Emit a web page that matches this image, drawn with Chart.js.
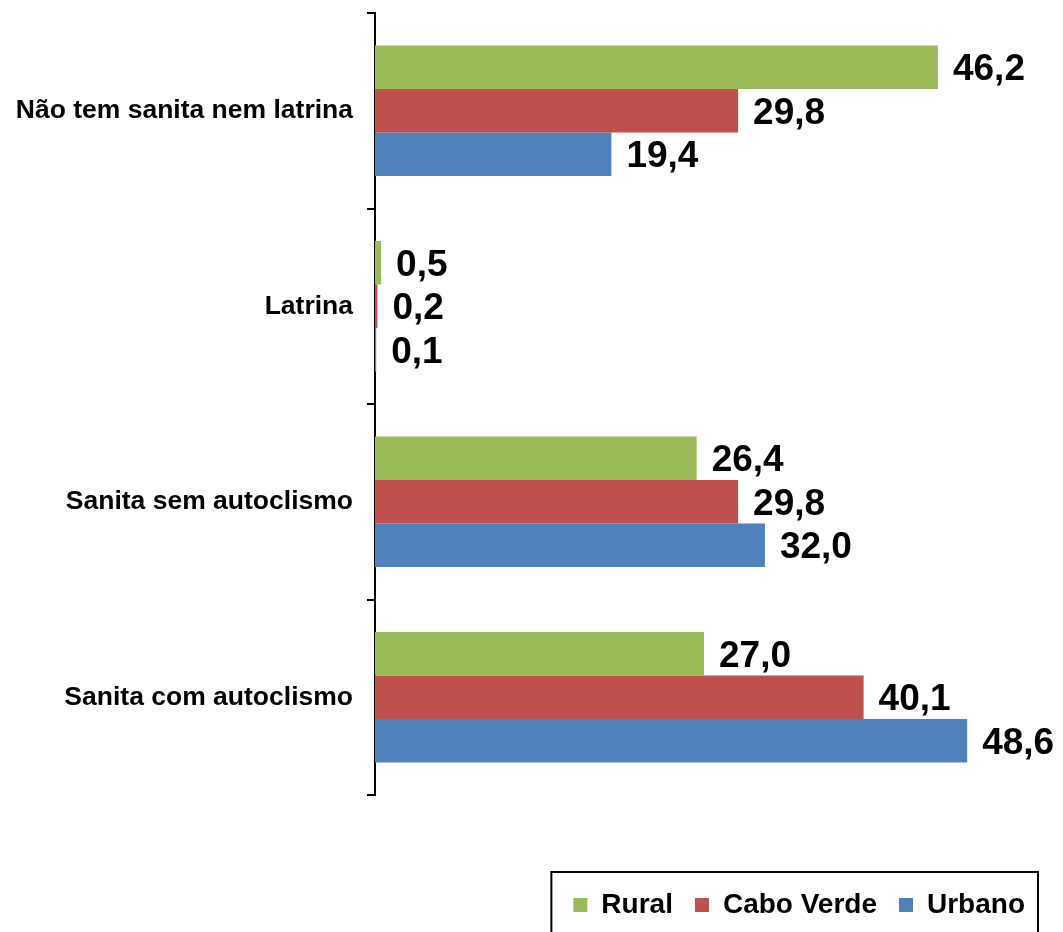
<!DOCTYPE html>
<html>
<head>
<meta charset="utf-8">
<script src="https://cdn.jsdelivr.net/npm/chart.js@4/dist/chart.umd.min.js"></script>
<style>
  html, body { margin: 0; padding: 0; background: #fff; }
  #wrap { width: 1063px; height: 932px; position: relative; }
</style>
</head>
<body>
<div id="wrap"><canvas id="c" width="1063" height="932"></canvas></div>
<script>
const categories = ["Não tem sanita nem latrina", "Latrina", "Sanita sem autoclismo", "Sanita com autoclismo"];
const seriesNames = ["Rural", "Cabo Verde", "Urbano"];
const rural = [46.2, 0.5, 26.4, 27.0];
const caboVerde = [29.8, 0.2, 29.8, 40.1];
const urbano = [19.4, 0.1, 32.0, 48.6];
const seriesColors = ["#9BBB59", "#C0504D", "#4F81BD"];

const FONT = '"Liberation Sans", Arial, sans-serif';

const valueLabels = {
  id: 'valueLabels',
  afterDatasetsDraw(chart) {
    const ctx = chart.ctx;
    ctx.save();
    ctx.font = 'bold 37px ' + FONT;
    ctx.fillStyle = '#000';
    ctx.textAlign = 'left';
    ctx.textBaseline = 'middle';
    chart.data.datasets.forEach((ds, di) => {
      const meta = chart.getDatasetMeta(di);
      meta.data.forEach((bar, i) => {
        const txt = ds.data[i].toFixed(1).replace('.', ',');
        ctx.fillText(txt, bar.x + 15, bar.y + 3);
      });
    });
    ctx.restore();
  }
};

const legendBorder = {
  id: 'legendBorder',
  afterDraw(chart) {
    const lg = chart.legend;
    if (!lg || !lg.legendHitBoxes || !lg.legendHitBoxes.length) return;
    const hb = lg.legendHitBoxes;
    const first = hb[0], last = hb[hb.length - 1];
    const cy = first.top + first.height / 2;
    const left = first.left - 22;
    const right = last.left + last.width + 13;
    const top = cy - 33;
    const ctx = chart.ctx;
    ctx.save();
    ctx.strokeStyle = '#000';
    ctx.lineWidth = 2;
    ctx.strokeRect(left, top, right - left, chart.height + 10 - top);
    ctx.restore();
  }
};

new Chart(document.getElementById('c'), {
  type: 'bar',
  data: {
    labels: categories,
    datasets: [
      { label: seriesNames[0], data: rural, backgroundColor: seriesColors[0] },
      { label: seriesNames[1], data: caboVerde, backgroundColor: seriesColors[1] },
      { label: seriesNames[2], data: urbano, backgroundColor: seriesColors[2] }
    ]
  },
  options: {
    indexAxis: 'y',
    responsive: false,
    animation: false,
    devicePixelRatio: 1,
    layout: { padding: { top: 13, right: 16, bottom: 3, left: 0 } },
    datasets: { bar: { categoryPercentage: 0.667, barPercentage: 1.0 } },
    scales: {
      x: {
        min: 0, max: 55.15,
        display: true,
        grid: { display: false, drawTicks: false },
        border: { display: false },
        ticks: { display: false },
        afterFit(scale) { scale.height = 74; }
      },
      y: {
        grid: { display: true, drawOnChartArea: false, drawTicks: true, tickLength: 8, color: '#000', lineWidth: 2, offset: true },
        border: { display: true, color: '#000', width: 2 },
        ticks: { color: '#000', font: { family: FONT, size: 26.5, weight: 'bold' }, padding: 14 },
        afterFit(scale) { scale.width = 375; scale.paddingTop = 0; scale.paddingBottom = 0; }
      }
    },
    plugins: {
      tooltip: { enabled: false },
      legend: {
        position: 'bottom',
        align: 'end',
        labels: {
          color: '#000',
          boxWidth: 14, boxHeight: 14,
          padding: 22,
          font: { family: FONT, size: 28, weight: 'bold' }
        }
      }
    }
  },
  plugins: [valueLabels, legendBorder]
});
</script>
</body>
</html>
